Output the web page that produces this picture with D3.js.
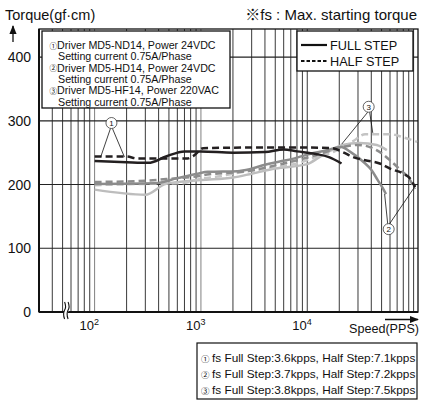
<!DOCTYPE html>
<html><head><meta charset="utf-8">
<script src="https://cdn.jsdelivr.net/npm/d3@7"></script>
<style>
body{margin:0;background:#fff}
svg{display:block}
text{font-family:"Liberation Sans",Arial,"Noto Sans CJK JP",sans-serif;fill:#111}
</style>
</head><body>
<svg id="c" width="421" height="403"></svg>
<script>
// ---------- data ----------
const speedDomain = [30, 110000];
const torqueDomain = [0, 444];
const torqueTicks = [0, 100, 200, 300, 400];
const speedTicks = [100, 1000, 10000];
const speedTickExp = ["2", "3", "4"];
const gridSpeeds = [40,50,60,70,80,90,100,200,300,400,500,600,700,800,900,1000,
  2000,3000,4000,5000,6000,7000,8000,9000,10000,20000,30000,40000,50000,60000,70000,80000,90000,100000];

const full1 = [[100,237],[200,235],[320,234],[470,244],[700,252],[1000,252],[2000,250],[4000,251],[6000,255],[8000,252],[12000,248],[16000,243],[21000,233]];
const half1 = [[100,244],[200,244],[250,241],[750,241],[850,245],[1050,257],[3000,258],[10000,258],[17000,257],[21500,251],[27000,243],[35000,238],[48000,233],[60000,225],[82000,216],[92000,210],[103000,196]];
const full2 = [[100,201],[370,202],[600,210],[930,217],[1160,220],[2200,221],[2870,224],[4000,231],[5500,236],[7600,241],[10500,248],[14600,253],[21000,259],[25000,252],[34000,235],[40000,223],[46000,207],[51000,195],[55000,185]];
const half2 = [[100,204],[300,206],[600,210],[850,212],[1200,216],[2000,219],[3000,222],[5000,230],[8000,238],[12000,246],[17000,254],[22000,259],[30000,262],[40000,258],[50000,249],[62000,236],[75000,223],[90000,210],[103000,193]];
const full3 = [[100,192],[300,184],[470,201],[1000,207],[2000,211],[3000,217],[5000,225],[10000,232],[13000,243],[16000,252],[21500,262],[31000,265],[45000,262],[56000,254]];
const half3 = [[100,199],[300,201],[650,202],[1000,209],[1500,213],[2000,217],[3000,222],[5000,227],[8000,233],[12000,243],[17000,250],[21500,258],[27000,268],[35000,279],[60000,279],[80000,274],[108000,267]];

const seriesNames = ["full3","half3","full2","half2","full1","half1"];
const seriesData = [full3, half3, full2, half2, full1, half1];
const seriesColor = ["#bdbdbd","#c4c4c4","#8c8c8c","#8c8c8c","#231f20","#231f20"];
const seriesDashed = [false, true, false, true, false, true];

const annotations = [
  {label:"1", at:[144,296.5], to:[[114,243],[191,243]]},
  {label:"2", at:[58300,130], to:[[53400,185],[105000,199]]},
  {label:"3", at:[37800,322], to:[[21100,263.5],[41300,281]]}
];

const circled = ["①", "②", "③"];
const noteLines = ["Driver MD5-ND14, Power 24VDC", "Setting current 0.75A/Phase",
  "Driver MD5-HD14, Power 24VDC", "Setting current 0.75A/Phase",
  "Driver MD5-HF14, Power 220VAC", "Setting current 0.75A/Phase"];
const fsLines = ["fs Full Step:3.6kpps, Half Step:7.1kpps",
  "fs Full Step:3.7kpps, Half Step:7.2kpps",
  "fs Full Step:3.8kpps, Half Step:7.5kpps"];
const legendLabels = ["FULL STEP", "HALF STEP"];

// ---------- drawing ----------
const svg = d3.select("#c");
const L = 39, R = 418, T = 29, B = 312;
const x = d3.scaleLog().domain(speedDomain).range([L, R]);
const y = d3.scaleLinear().domain(torqueDomain).range([B, T]);

// grid
svg.append("g").selectAll("line").data(gridSpeeds).join("line")
  .attr("x1", d => x(d)).attr("x2", d => x(d)).attr("y1", T).attr("y2", B)
  .attr("stroke", d => (d===100||d===1000) ? "#808080" : "#3a3a3a").attr("stroke-width", 1);
svg.append("g").selectAll("line").data(torqueTicks.filter(d => d>0)).join("line")
  .attr("x1", L).attr("x2", R).attr("y1", d => y(d)).attr("y2", d => y(d))
  .attr("stroke", "#222").attr("stroke-width", 1.2);

// frame
svg.append("rect").attr("x", L).attr("y", T).attr("width", R-L).attr("height", B-T)
  .attr("fill", "none").attr("stroke", "#111").attr("stroke-width", 1.3);
svg.append("line").attr("x1", L).attr("x2", R).attr("y1", B).attr("y2", B).attr("stroke", "#111").attr("stroke-width", 2);
svg.append("line").attr("x1", L).attr("x2", L).attr("y1", T).attr("y2", B).attr("stroke", "#111").attr("stroke-width", 2);

// axis break mark
const bx = x(50) + 2;
svg.append("path").attr("d", `M${bx},${B-10} q2,5 0,8 q-2,4 0,9 L${bx+4},${B-1} q-2,-4 0,-9 q2,-4 0,-8 Z`)
  .attr("fill", "#fff").attr("stroke", "none");
[0, 3.5].forEach(o => svg.append("path")
  .attr("d", `M${bx+o},${B-10} q2,5 0,8 q-2,4 0,9`)
  .attr("fill", "none").attr("stroke", "#111").attr("stroke-width", 1.1));

// y axis labels
const yAx = svg.append("g").attr("transform", `translate(${L},0)`)
  .call(d3.axisLeft(y).tickValues(torqueTicks).tickSize(0).tickPadding(8));
yAx.select(".domain").remove();
yAx.selectAll("text").style("font-size", "14px").attr("fill", "#111")
  .attr("font-family", '"Liberation Sans",Arial,sans-serif');

// x axis labels
const xAx = svg.append("g").attr("transform", `translate(0,${B})`)
  .call(d3.axisBottom(x).tickValues(speedTicks).tickSize(0).tickPadding(9).tickFormat(() => ""));
xAx.select(".domain").remove();
xAx.selectAll("text").each(function(d, i) {
  const t = d3.select(this).attr("text-anchor", "end").attr("dx", "4px").style("font-size", "13px").attr("fill", "#111");
  t.append("tspan").text("10");
  t.append("tspan").attr("dy", "-5").style("font-size", "9px").text(speedTickExp[i]);
});

// curves
const line = d3.line().x(d => x(d[0])).y(d => y(d[1])).curve(d3.curveMonotoneX);
svg.append("g").selectAll("path").data(seriesData).join("path")
  .attr("class", (d, i) => seriesNames[i])
  .attr("d", line).attr("fill", "none")
  .attr("stroke", (d, i) => seriesColor[i]).attr("stroke-width", 2.5)
  .attr("stroke-dasharray", (d, i) => seriesDashed[i] ? "7,4" : null);

// annotations
annotations.forEach(a => {
  const cx = x(a.at[0]), cy = y(a.at[1]);
  a.to.forEach(p => svg.append("line")
    .attr("x1", cx + (x(p[0]) > cx ? 1 : -1)).attr("y1", y(p[1]) > cy ? cy + 5.5 : cy - 5.5)
    .attr("x2", x(p[0])).attr("y2", y(p[1])).attr("stroke", "#111").attr("stroke-width", 0.8));
  svg.append("circle").attr("cx", cx).attr("cy", cy).attr("r", 5.5)
    .attr("fill", "#fff").attr("stroke", "#222").attr("stroke-width", 0.7);
  svg.append("text").attr("x", cx).attr("y", cy + 3).attr("text-anchor", "middle")
    .style("font-size", "8px").text(a.label);
});

// note box
svg.append("rect").attr("x", 42).attr("y", 31).attr("width", 188).attr("height", 77)
  .attr("fill", "#fff").attr("stroke", "#111").attr("stroke-width", 1.3);
const nt = svg.append("g").selectAll("text").data(noteLines).join("text")
  .attr("x", (d, i) => i % 2 ? 58 : 49.5).attr("y", (d, i) => 49 + i * 11.3)
  .style("font-size", "10.7px");
nt.each(function(d, i) {
  const t = d3.select(this);
  if (i % 2 === 0) t.append("tspan").style("font-size", "7.5px").attr("dy", "-0.5").text(circled[i/2]);
  t.append("tspan").attr("x", i % 2 ? 58 : 57).attr("dy", i % 2 ? 0 : "0.5").text(d);
});

// legend box
svg.append("rect").attr("x", 297).attr("y", 31).attr("width", 116).attr("height", 40)
  .attr("fill", "#fff").attr("stroke", "#111").attr("stroke-width", 1.3);
legendLabels.forEach((lab, i) => {
  const ly = 45 + i * 16;
  svg.append("line").attr("x1", 301).attr("x2", 327).attr("y1", ly).attr("y2", ly)
    .attr("stroke", "#111").attr("stroke-width", 2.2).attr("stroke-dasharray", i ? "3.5,2" : null);
  svg.append("text").attr("x", 330).attr("y", ly + 4.5).style("font-size", "12.7px").text(lab);
});

// fs box
svg.append("rect").attr("x", 197).attr("y", 343).attr("width", 220).attr("height", 56)
  .attr("fill", "#fff").attr("stroke", "#111").attr("stroke-width", 1.2);
const ft = svg.append("g").selectAll("text").data(fsLines).join("text")
  .attr("x", 201).attr("y", (d, i) => 361.5 + i * 16).style("font-size", "11.8px");
ft.each(function(d, i) {
  const t = d3.select(this);
  t.append("tspan").style("font-size", "8.5px").text(circled[i]);
  t.append("tspan").attr("x", 212).text(d);
});

// titles
svg.append("text").attr("x", 5).attr("y", 20).style("font-size", "14.5px").text("Torque(gf·cm)");
svg.append("text").attr("x", 417).attr("y", 20).attr("text-anchor", "end").style("font-size", "15px").text("※fs : Max. starting torque");
svg.append("text").attr("x", 419).attr("y", 333).attr("text-anchor", "end").style("font-size", "12.6px").text("Speed(PPS)");

// arrows
svg.append("defs").append("marker").attr("id", "ah").attr("viewBox", "0 0 10 10")
  .attr("refX", 9).attr("refY", 5).attr("markerWidth", 7).attr("markerHeight", 7)
  .attr("orient", "auto").append("path").attr("d", "M0,1 L10,5 L0,9 Z").attr("fill", "#111");
svg.append("line").attr("x1", 13).attr("y1", 42).attr("x2", 13).attr("y2", 26)
  .attr("stroke", "#111").attr("stroke-width", 1.3).attr("marker-end", "url(#ah)");
svg.append("line").attr("x1", 385).attr("y1", 319.5).attr("x2", 418).attr("y2", 319.5)
  .attr("stroke", "#111").attr("stroke-width", 1.3).attr("marker-end", "url(#ah)");
</script>
</body></html>
